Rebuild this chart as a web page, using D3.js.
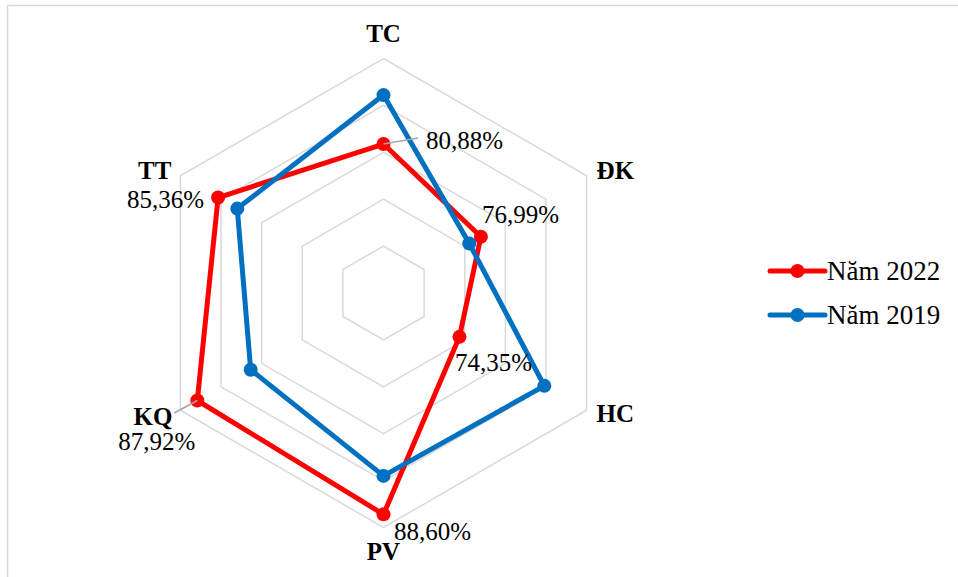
<!DOCTYPE html>
<html>
<head>
<meta charset="utf-8">
<script src="https://cdn.jsdelivr.net/npm/d3@7"></script>
<style>
  body { margin: 0; background: #fff; }
  svg { display: block; }
  svg text { font-family: 'Liberation Serif', 'Times New Roman', Times, serif; }
</style>
</head>
<body>
<svg id="chart" width="958" height="577"></svg>
<script>
// axes / categories (clockwise from top)
const categories = ["TC", "ĐK", "HC", "PV", "KQ", "TT"];
const seriesNames = ["Năm 2022", "Năm 2019"];
const values2022 = [80.88, 76.99, 74.35, 88.60, 87.92, 85.36];
const values2019 = [86.1, 75.56, 84.8, 84.5, 81.35, 83.0];
const ringTicks = [70, 75, 80, 85, 90];
const dataLabels2022 = ["80,88%", "76,99%", "74,35%", "88,60%", "87,92%", "85,36%"];

const FONT = "'Liberation Serif', 'Times New Roman', Times, serif";
const svg = d3.select("#chart");
const cx = 383.5, cy = 293, R = 234.5;
const colors = ["#FF0000", "#0070C0"];

// chart frame
svg.append("rect")
  .attr("x", 7.5).attr("y", 5.5)
  .attr("width", 1000).attr("height", 600)
  .attr("fill", "none")
  .attr("stroke", "#d9d9d9")
  .attr("stroke-width", 1.5);

const r = d3.scaleLinear().domain([65, 90]).range([0, R]);
const angle = i => (i * 2 * Math.PI) / categories.length;
const pt = (i, v) => [cx + r(v) * Math.sin(angle(i)), cy - r(v) * Math.cos(angle(i))];

const g = svg.append("g").attr("font-family", FONT);

// grid rings
g.selectAll("polygon.ring")
  .data(ringTicks)
  .enter()
  .append("polygon")
  .attr("class", "ring")
  .attr("points", t => categories.map((c, i) => pt(i, t).join(",")).join(" "))
  .attr("fill", "none")
  .attr("stroke", "#d9d9d9")
  .attr("stroke-width", 1.5);

// category labels, offset from outer vertex
const catOffsets = [[0, -16.5, "middle"], [10, 3, "start"], [10, 12, "start"],
                    [0, 32.5, "middle"], [-8, 15, "end"], [-9, 3, "end"]];
g.selectAll("text.cat")
  .data(categories)
  .enter()
  .append("text")
  .attr("class", "cat")
  .attr("x", (d, i) => pt(i, 90)[0] + catOffsets[i][0])
  .attr("y", (d, i) => pt(i, 90)[1] + catOffsets[i][1])
  .attr("text-anchor", (d, i) => catOffsets[i][2])
  .attr("font-family", FONT)
  .attr("font-size", 25)
  .attr("font-weight", "bold")
  .attr("fill", "#000")
  .text(d => d);

// series (2019 drawn on top as in the reference)
const allSeries = [values2022, values2019];
const line = d3.line().curve(d3.curveLinearClosed);
allSeries.forEach((vals, s) => {
  const pts = vals.map((v, i) => pt(i, v));
  g.append("path")
    .attr("d", line(pts))
    .attr("fill", "none")
    .attr("stroke", colors[s])
    .attr("stroke-width", 5)
    .attr("stroke-linejoin", "round");
  g.selectAll(null)
    .data(pts)
    .enter()
    .append("circle")
    .attr("cx", d => d[0])
    .attr("cy", d => d[1])
    .attr("r", 7)
    .attr("fill", colors[s]);
});

// leader lines for TC and KQ labels
const leaders = [[0, 34.5, -6], [4, -23, 12.5]];
leaders.forEach(([i, dx, dy]) => {
  const p = pt(i, values2022[i]);
  g.append("line")
    .attr("x1", p[0]).attr("y1", p[1])
    .attr("x2", p[0] + dx).attr("y2", p[1] + dy)
    .attr("stroke", "#a6a6a6")
    .attr("stroke-width", 1.5);
});

// data labels for 2022 series
const lblOffsets = [[42.5, 5, "start"], [1, -14, "start"], [-4.5, 34, "start"],
                    [10.5, 25.6, "start"], [-2, 49.5, "end"], [-14, 10.5, "end"]];
g.selectAll("text.lbl")
  .data(dataLabels2022)
  .enter()
  .append("text")
  .attr("class", "lbl")
  .attr("x", (d, i) => pt(i, values2022[i])[0] + lblOffsets[i][0])
  .attr("y", (d, i) => pt(i, values2022[i])[1] + lblOffsets[i][1])
  .attr("text-anchor", (d, i) => lblOffsets[i][2])
  .attr("font-family", FONT)
  .attr("font-size", 25)
  .attr("fill", "#000")
  .text(d => d);

// legend
const legend = svg.append("g").attr("transform", "translate(770,271)");
seriesNames.forEach((name, s) => {
  const row = legend.append("g").attr("transform", `translate(0,${s * 44})`);
  row.append("line")
    .attr("x1", 0).attr("x2", 55)
    .attr("y1", 0).attr("y2", 0)
    .attr("stroke", colors[s])
    .attr("stroke-width", 5)
    .attr("stroke-linecap", "round");
  row.append("circle").attr("cx", 27.5).attr("cy", 0).attr("r", 7).attr("fill", colors[s]);
  row.append("text")
    .attr("x", 57).attr("y", 8.5)
    .attr("font-family", FONT)
    .attr("font-size", 27)
    .attr("fill", "#000")
    .text(name);
});
</script>
</body>
</html>
